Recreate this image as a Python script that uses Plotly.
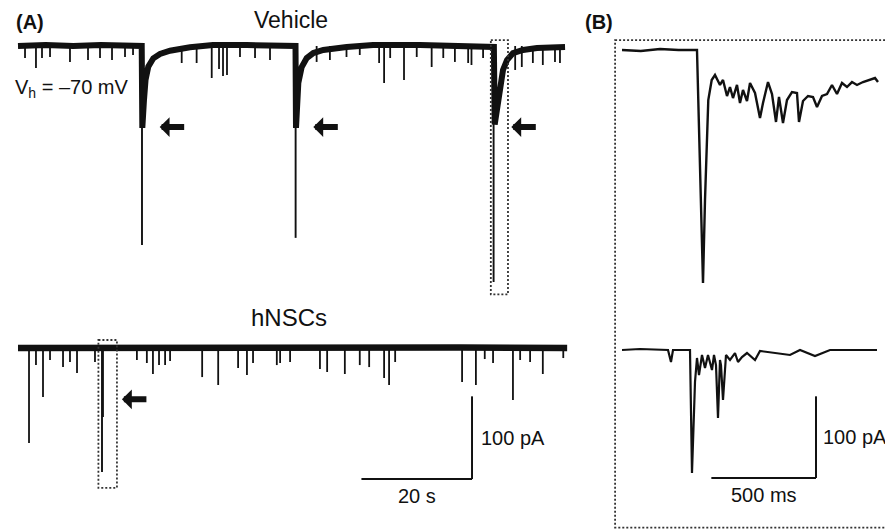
import plotly.graph_objects as go

# ---------------- Panel A data (time in s, current in pA) ----------------
# Vehicle: slow envelope of the holding current (baseline + evoked-current decays)
veh_env_t = [0, 5, 10, 15, 22.37, 22.48, 22.78, 23.06, 23.56, 24.47, 25.68, 27.49, 31.1, 35.26,
             41.36, 47.38, 50.18, 50.27, 50.51, 50.69, 51.30, 52.21, 53.40, 55.21, 59.44, 64.2,
             72.7, 81.7, 85.8, 86.05, 86.2, 86.62, 87.16, 87.7, 88.43, 89.51, 91.32, 93.85, 98.92]
veh_env_i = [0, 1.2, 0, 1.2, 0, -99, -65, -41, -25, -14.9, -9.7, -5.7, -1.6, 1.2,
             1.2, 0, 0, -99, -71, -44.7, -25.4, -14.5, -8.5, -4.8, -1.2, 1.2,
             1.2, 0, -1.2, -1.2, -95, -75, -56.8, -29, -16.9, -8.5, -4.8, -2.4, -1.2]
# Vehicle: spontaneous events (time, peak)
veh_spk_t = [1.27, 3.25, 4.34, 5.79, 9.40, 12.66, 14.83, 17.0, 19.35, 20.8,
             29.6, 32.3, 35.03, 36.35, 37.07, 37.79, 40.14, 42.86, 45.57,
             54.0, 56.4, 59.4, 61.8, 65.3, 66.2, 67.3, 69.8, 72.1, 74.8, 76.9, 79.0, 81.4, 82.0, 84.1,
             89.9, 91.1, 93.1, 94.9, 97.1, 98.0]
veh_spk_i = [-14.5, -26.6, -14.5, -13.3, -19.3, -16.9, -14.5, -16.9, -13.3, -10.9,
             -20.6, -20.6, -38.7, -27.8, -36.3, -35.1, -13.3, -14.5, -16.9,
             -19.3, -16.9, -13.3, -10.9, -20.6, -44.7, -14.5, -41.1, -13.3, -25.4, -14.5, -19.3, -20.6, -23, -14.5,
             -29, -25.4, -20.6, -23, -19.3, -20.6]
# Vehicle: large evoked events (time, peak)
veh_evt_t = [22.42, 50.2, 86.0]
veh_evt_i = [-240.6, -232.0, -285.4]

# hNSCs: baseline envelope
hnsc_env_t = [0, 20, 40, 60, 80, 99.3]
hnsc_env_i = [0, 0.6, -0.6, 0, 0.6, 0]
hnsc_spk_t = [1.99, 3.25, 4.52, 5.79, 8.14, 9.40, 10.67, 13.92, 15.37, 21.5, 23.3, 24.4, 25.5, 26.6,
              27.5, 33.3, 36.2, 39.8, 41.4, 42.5, 46.8, 47.4, 49.2, 54.6, 55.9, 59.1, 61.8, 63.5,
              66.2, 67.1, 68.2, 80.3, 82.8, 84.4, 85.9, 89.5, 90.8, 92.6, 94.9, 98.6]
hnsc_spk_i = [-114.9, -20.6, -59.3, -14.5, -23, -16.9, -30.2, -16.9, -83.4, -14.5, -18.1, -31.4, -20.6, -20.6,
              -15.7, -35.1, -44.7, -24.2, -32.6, -18.1, -20.6, -18.1, -16.9, -25.4, -29, -31.4, -20.6, -23,
              -36.3, -44.7, -16.9, -41.1, -44.7, -13.3, -18.1, -62.9, -14.5, -16.9, -31.4, -12.1]
hnsc_evt_t = [15.19]
hnsc_evt_i = [-150.0]

# ---------------- Panel B data (time in ms, current in pA) ----------------
vehB_t = [0, 90, 181.6, 270, 358.3, 387.0, 396.6, 412.3, 428.6, 444.3, 468.2, 482.6, 501.7, 516.0,
          530.3, 549.4, 563.8, 578.1, 597.2, 611.6, 635.5, 659.3, 673.7, 697.6, 716.7, 735.8, 750.1,
          769.2, 788.3, 812.2, 836.1, 845.7, 864.8, 888.7, 912.6, 931.7, 955.6, 979.5, 1003.3,
          1027.2, 1051.1, 1075.0, 1098.9, 1122.8, 1151.5, 1184.9, 1208.8, 1223.1]
vehB_i = [0, -1.2, 1.2, 0, 0, -285.2, -183.6, -61.2, -36.7, -30.6, -42.8, -36.7, -56.3, -45.3,
          -58.8, -42.8, -64.9, -49, -62.4, -40.4, -52.6, -83.2, -64.9, -39.2, -53.9, -88.1, -57.5,
          -89.4, -61.2, -51.4, -52.6, -88.1, -62.4, -56.3, -57.5, -69.8, -56.3, -53.9, -42.8,
          -53.9, -40.4, -45.3, -39.2, -42.8, -39.2, -36.7, -34.3, -39.2]
hnscB_t = [0, 86, 219.8, 234.1, 243.7, 324.9, 334.4, 348.8, 358.3, 367.9, 382.2, 396.6, 410.9, 430.0,
           439.6, 449.1, 458.7, 468.2, 473.0, 482.6, 496.9, 516.0, 539.9, 554.2, 573.3, 597.2, 635.5,
           659.3, 802.7, 850.5, 922.1, 993.8, 1218.3]
hnscB_i = [0, 1.2, 0, -14.7, 0, 0, -150.6, -39.2, -9.8, -30.6, -6.1, -22, -6.1, -24.5,
           -6.1, -18.4, -83.2, -12.2, -18.4, -61.2, -6.1, -12.2, -3.7, -14.7, -8.6, -3.7, -12.2,
           -1.2, -6.1, 0, -7.3, 0, 0]

# scale bars
SCALE_A_T, SCALE_A_I = 20, 100      # s, pA
SCALE_B_T, SCALE_B_I = 500, 100     # ms, pA

# ---------------- layout constants ----------------
W, H = 885, 529
ROW_A = -365.2      # vertical offset of hNSCs row in panel A (pA)
ROW_B = -367.2      # vertical offset of hNSCs row in panel B (pA)
FONT = "Liberation Sans, Arial, Helvetica, sans-serif"
INK = "#111111"

fig = go.Figure()


def add_spikes(ts, vs, offset, xa, ya, width):
    xs, ys = [], []
    for t, v in zip(ts, vs):
        xs += [t, t, None]
        ys += [offset, offset + v, None]
    fig.add_trace(go.Scatter(x=xs, y=ys, mode="lines", xaxis=xa, yaxis=ya,
                             line=dict(color=INK, width=width), hoverinfo="skip",
                             showlegend=False))


def add_line(ts, vs, offset, xa, ya, width):
    fig.add_trace(go.Scatter(x=ts, y=[offset + v for v in vs], mode="lines", xaxis=xa, yaxis=ya,
                             line=dict(color=INK, width=width), hoverinfo="skip",
                             showlegend=False))


# Panel A traces
add_spikes(veh_spk_t, veh_spk_i, 0, "x", "y", 1.8)
add_spikes(veh_evt_t, veh_evt_i, 0, "x", "y", 1.9)
add_line(veh_env_t, veh_env_i, 0, "x", "y", 6)
add_spikes(hnsc_spk_t, hnsc_spk_i, ROW_A, "x", "y", 1.8)
add_spikes(hnsc_evt_t, hnsc_evt_i, ROW_A, "x", "y", 1.9)
add_line(hnsc_env_t, hnsc_env_i, ROW_A, "x", "y", 6.5)

# Panel B traces
add_line(vehB_t, vehB_i, 0, "x2", "y2", 2.4)
add_line(hnscB_t, hnscB_i, ROW_B, "x2", "y2", 2.2)

shapes = []
DOT = dict(color="#333333", width=1.8, dash="2px,2px")
# dotted boxes around the expanded events
t0 = veh_evt_t[-1]
shapes.append(dict(type="rect", xref="x", yref="y", x0=t0 - 0.5, x1=t0 + 2.6,
                   y0=7, y1=veh_evt_i[-1] - 15, line=DOT))
t1 = hnsc_evt_t[0]
shapes.append(dict(type="rect", xref="x", yref="y", x0=t1 - 0.65, x1=t1 + 2.7,
                   y0=ROW_A + 9.7, y1=ROW_A + hnsc_evt_i[0] - 19, line=DOT))
shapes.append(dict(type="rect", xref="x2", yref="y2", x0=-33, x1=1500,
                   y0=12.2, y1=-584.5, line=DOT))

# scale bars
ca_t, ca_i = 82.1, -523.6
shapes.append(dict(type="line", xref="x", yref="y", x0=ca_t - SCALE_A_T, x1=ca_t, y0=ca_i, y1=ca_i,
                   line=dict(color=INK, width=2)))
shapes.append(dict(type="line", xref="x", yref="y", x0=ca_t, x1=ca_t, y0=ca_i, y1=ca_i + SCALE_A_I,
                   line=dict(color=INK, width=2)))
cb_t, cb_i = 926.9, -523.9
shapes.append(dict(type="line", xref="x2", yref="y2", x0=cb_t - SCALE_B_T, x1=cb_t, y0=cb_i, y1=cb_i,
                   line=dict(color=INK, width=2)))
shapes.append(dict(type="line", xref="x2", yref="y2", x0=cb_t, x1=cb_t, y0=cb_i, y1=cb_i + SCALE_B_I,
                   line=dict(color=INK, width=2)))

ann = []


def txt(text, x, y, size, xanchor="center", bold=False, xref="paper", yref="paper"):
    ann.append(dict(text=f"<b>{text}</b>" if bold else text, x=x, y=y, xref=xref, yref=yref,
                    xanchor=xanchor, yanchor="middle", showarrow=False,
                    font=dict(family=FONT, size=size, color=INK)))


txt("(A)", 14 / W, 1 - 22 / H, 20, "left", bold=True)
txt("(B)", 583 / W, 1 - 22 / H, 20, "left", bold=True)
txt("Vehicle", 291 / W, 1 - 20 / H, 23)
txt("hNSCs", 289 / W, 1 - 317 / H, 24)
txt("V<sub>h</sub> = \u201370 mV", 13 / W, 1 - 88 / H, 20, "left")
txt(f"{SCALE_A_I} pA", ca_t + 1.2, ca_i + SCALE_A_I / 2, 20, "left", xref="x", yref="y")
txt(f"{SCALE_A_T} s", ca_t - SCALE_A_T / 2, ca_i - 20, 20, "center", xref="x", yref="y")
txt(f"{SCALE_B_I} pA", cb_t + 22, cb_i + SCALE_B_I / 2, 20, "left", xref="x2", yref="y2")
txt(f"{SCALE_B_T} ms", cb_t - SCALE_B_T / 2, cb_i - 21, 20, "center", xref="x2", yref="y2")

# arrows pointing at the evoked events
for t in veh_evt_t:
    ann.append(dict(x=t + 3.2, y=-98, xref="x", yref="y", ax=26, ay=0, text="", showarrow=True,
                    arrowhead=1, arrowwidth=6, arrowsize=0.55, arrowcolor=INK))
for t in hnsc_evt_t:
    ann.append(dict(x=t + 3.6, y=ROW_A - 62, xref="x", yref="y", ax=26, ay=0, text="", showarrow=True,
                    arrowhead=1, arrowwidth=6, arrowsize=0.55, arrowcolor=INK))

fig.update_layout(
    width=W, height=H, margin=dict(l=0, r=0, t=0, b=0),
    paper_bgcolor="white", plot_bgcolor="white", showlegend=False,
    xaxis=dict(domain=[0, 600 / W], range=[-3.255, 105.24], visible=False),
    yaxis=dict(domain=[0, 1], range=[-584.0, 55.6], visible=False),
    xaxis2=dict(domain=[600 / W, 1], range=[-105.1, 1256.6], visible=False, anchor="y2"),
    yaxis2=dict(domain=[0, 1], range=[-586.3, 61.2], visible=False, anchor="x2"),
    shapes=shapes, annotations=ann,
)

# remove the browser's default page margin so the figure sits at the window's corner
fig.write_html("out.html", config={"displayModeBar": False},
               post_script="document.body.style.margin='0px';")
